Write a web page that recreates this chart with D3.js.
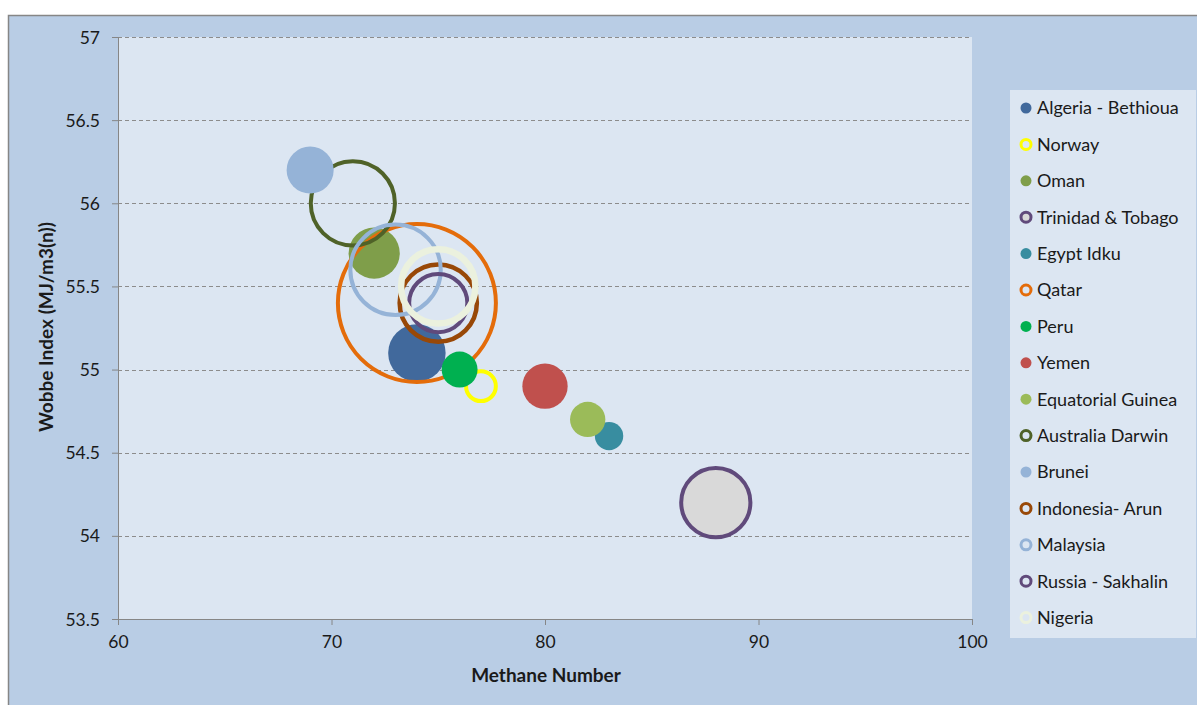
<!DOCTYPE html>
<html>
<head>
<meta charset="utf-8">
<script src="https://cdn.jsdelivr.net/npm/d3@7"></script>
<style>
  body { margin: 0; background: #ffffff; }
  svg { font-family: Lato, "Liberation Sans", sans-serif; }
</style>
</head>
<body>
<svg id="chart" width="1197" height="705"></svg>
<script>
// Series data, in legend order (later ones drawn on top)
var countries = ["Algeria - Bethioua", "Norway", "Oman", "Trinidad & Tobago", "Egypt Idku", "Qatar", "Peru", "Yemen",
  "Equatorial Guinea", "Australia Darwin", "Brunei", "Indonesia- Arun", "Malaysia", "Russia - Sakhalin", "Nigeria"]
var methaneNumber = [74, 77, 72, 88, 83, 74, 76, 80, 82, 71, 69, 75, 73, 75, 75]
var wobbeIndex = [55.1, 54.9, 55.7, 54.2, 54.6, 55.4, 55.0, 54.9, 54.7, 56.0, 56.2, 55.4, 55.6, 55.4, 55.5]
var bubbleSize = [8.2, 2.2, 6.5, 11.9, 2.0, 62, 3.2, 5.1, 3.1, 17.6, 5.5, 14.8, 20.3, 8.4, 13.7]

var xTicks = [60, 70, 80, 90, 100]
var yTicks = [53.5, 54, 54.5, 55, 55.5, 56, 56.5, 57]

// Marker styles per series: fill / outline
var fills = ["#41699c", "none", "#7f9e4a", "#d9d9d9", "#388da0", "none", "#00b050", "#c0504d",
  "#9bbb59", "none", "#95b3d7", "none", "none", "none", "none"]
var strokes = ["none", "#ffff00", "none", "#604a7b", "none", "#e46c0a", "none", "none",
  "none", "#4f6228", "none", "#984807", "#95b3d7", "#604a7b", "#ebf1de"]
var strokeWidths = [0, 4, 0, 4, 0, 4, 0, 0, 0, 4, 0, 4.5, 4, 4, 6.5]

var data = countries.map(function (c, i) {
  return { name: c, x: methaneNumber[i], y: wobbeIndex[i], size: bubbleSize[i],
    fill: fills[i], stroke: strokes[i], sw: strokeWidths[i] }
})

var svg = d3.select("#chart")

var margin = { left: 118, top: 37 }
var width = 972 - 118
var height = 619 - 37

// Chart area background with border
svg.append("rect")
  .attr("x", 8.5).attr("y", 15.5)
  .attr("width", 1197).attr("height", 705)
  .attr("fill", "#b9cde5")
  .attr("stroke", "#868686")
  .attr("stroke-width", 1.5)

var chart = svg.append("g")
  .attr("transform", "translate(" + margin.left + "," + margin.top + ")")

chart.append("rect")
  .attr("width", width).attr("height", height)
  .attr("fill", "#dce6f2")

var xscale = d3.scaleLinear().domain([60, 100]).range([0, width])
var yscale = d3.scaleLinear().domain([53.5, 57]).range([height, 0])
var rscale = d3.scaleSqrt().domain([0, 62]).range([0, 79])

// Horizontal gridlines
chart.append("g")
  .selectAll("line")
  .data(yTicks.slice(1))
  .enter()
  .append("line")
  .attr("x1", 0).attr("x2", width)
  .attr("y1", function (d) { return Math.round(yscale(d)) + 0.5 })
  .attr("y2", function (d) { return Math.round(yscale(d)) + 0.5 })
  .attr("stroke", "#8c8c8c")
  .attr("stroke-dasharray", "4,3")

// Axes
var xAxis = d3.axisBottom(xscale).tickValues(xTicks).tickSize(6).tickPadding(11).tickFormat(d3.format("d"))
var yAxis = d3.axisLeft(yscale).tickValues(yTicks).tickSize(6).tickPadding(12).tickFormat(function (d) { return d })

var gx = chart.append("g")
  .attr("transform", "translate(0," + height + ")")
  .call(xAxis)
var gy = chart.append("g")
  .call(yAxis)

chart.selectAll(".domain").attr("stroke", "#868686")
chart.selectAll(".tick line").attr("stroke", "#868686")
chart.selectAll(".tick text")
  .attr("fill", "#1a1a1a")
  .style("font-size", "17.5px")
  .style("font-family", "Lato, sans-serif")
gy.selectAll(".tick text").attr("dy", "0.35em")

// Axis titles
svg.append("text")
  .attr("x", 546).attr("y", 682)
  .attr("text-anchor", "middle")
  .style("font-weight", "bold")
  .style("font-size", "19px")
  .attr("fill", "#1a1a1a")
  .text("Methane Number")

svg.append("text")
  .attr("transform", "translate(53," + 327 + ") rotate(-90)")
  .attr("text-anchor", "middle")
  .style("font-weight", "bold")
  .style("font-size", "19px")
  .attr("fill", "#1a1a1a")
  .text("Wobbe Index (MJ/m3(n))")

// Bubbles
chart.append("g")
  .selectAll("circle")
  .data(data)
  .enter()
  .append("circle")
  .attr("cx", function (d) { return xscale(d.x) })
  .attr("cy", function (d) { return yscale(d.y) })
  .attr("r", function (d) { return rscale(d.size) })
  .attr("fill", function (d) { return d.fill })
  .attr("stroke", function (d) { return d.stroke })
  .attr("stroke-width", function (d) { return d.sw })

// Legend
var legend = svg.append("g")

legend.append("rect")
  .attr("x", 1010).attr("y", 90)
  .attr("width", 186).attr("height", 548)
  .attr("fill", "#dce6f2")

var item = legend.selectAll(".item")
  .data(data)
  .enter()
  .append("g")
  .attr("class", "item")
  .attr("transform", function (d, i) { return "translate(1026," + (108 + i * 36.4) + ")" })

item.append("circle")
  .attr("r", function (d) { return d.sw > 0 ? 5 : 5.5 })
  .attr("fill", function (d) { return d.fill == "none" ? "#dce6f2" : d.fill })
  .attr("stroke", function (d) { return d.stroke })
  .attr("stroke-width", function (d) { return d.sw > 0 ? Math.min(d.sw, 3) : 0 })

item.append("text")
  .attr("x", 11)
  .attr("dy", "0.36em")
  .style("font-size", "18px")
  .attr("fill", "#1a1a1a")
  .text(function (d) { return d.name })
</script>
</body>
</html>
